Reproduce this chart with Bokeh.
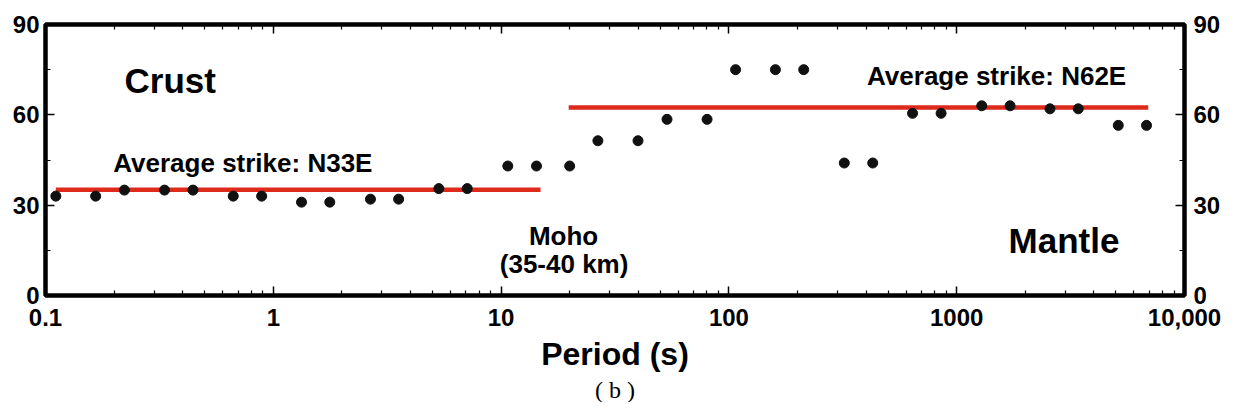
from bokeh.plotting import figure
from bokeh.models import Range1d, LogAxis, LinearAxis, FixedTicker, CustomJSTickFormatter, Label, Title
from bokeh.embed import file_html
from bokeh.resources import INLINE

# ---- data ----
period = [0.111, 0.166, 0.222, 0.333, 0.444, 0.667, 0.889, 1.33, 1.77, 2.67, 3.55,
          5.33, 7.1, 10.7, 14.3, 20.0, 26.6, 39.9, 53.5, 80.2, 107, 160, 213,
          321, 428, 640, 854, 1288, 1715, 2567, 3417, 5120, 6813]
strike = [33, 33, 35, 35, 35, 33, 33, 31, 31, 32, 32,
          35.5, 35.5, 43, 43, 43, 51.4, 51.4, 58.5, 58.5, 75, 75, 75,
          44, 44, 60.5, 60.5, 63, 63, 62, 62, 56.5, 56.5]

crust_x = [0.111, 14.9]
crust_y = [35.1, 35.1]
mantle_x = [19.8, 6930]
mantle_y = [62.4, 62.4]

x_ticks = [0.1, 1, 10, 100, 1000, 10000]
x_tick_labels = ["0.1", "1", "10", "100", "1000", "10,000"]
y_ticks = [0, 30, 60, 90]
y_minor = [15, 45, 75]

x_minor = [m * d for d in x_ticks[:-1] for m in range(2, 10)]

FONT = "Liberation Sans"

p = figure(width=1223, height=402, x_axis_type="log",
           x_range=Range1d(0.1, 10000), y_range=Range1d(0, 90),
           output_backend="svg", toolbar_location=None,
           min_border_left=45, min_border_right=38,
           min_border_top=24, min_border_bottom=106)
p.grid.visible = False
p.outline_line_color = "black"
p.outline_line_width = 4.5
p.background_fill_color = "white"
p.border_fill_color = "white"

labels_js = CustomJSTickFormatter(args=dict(t=x_ticks, l=x_tick_labels), code="""
for (let i = 0; i < t.length; i++) { if (Math.abs(Math.log10(tick) - Math.log10(t[i])) < 1e-6) return l[i]; }
return '';
""")
blank_js = CustomJSTickFormatter(code="return '';")

def style_axis(ax):
    ax.axis_line_color = None
    ax.major_tick_in = 9
    ax.major_tick_out = 0
    ax.minor_tick_in = 5
    ax.minor_tick_out = 0
    ax.major_tick_line_width = 1.5
    ax.minor_tick_line_width = 1.2
    ax.major_tick_line_color = "black"
    ax.minor_tick_line_color = "black"
    ax.major_label_text_font = FONT
    ax.major_label_text_font_style = "bold"
    ax.major_label_text_font_size = "24px"
    ax.major_label_text_color = "black"

xticker = FixedTicker(ticks=x_ticks, minor_ticks=x_minor)
yticker = FixedTicker(ticks=y_ticks, minor_ticks=y_minor)

xa = p.xaxis[0]
xa.ticker = xticker
xa.formatter = labels_js
style_axis(xa)
xa.major_label_standoff = 13
xa.axis_label = "Period (s)"
xa.axis_label_text_font = FONT
xa.axis_label_text_font_style = "bold"
xa.axis_label_text_font_size = "32px"
xa.axis_label_text_color = "black"
xa.axis_label_standoff = 7

ya = p.yaxis[0]
ya.ticker = yticker
style_axis(ya)
ya.major_label_standoff = 6
ya.major_label_orientation = "horizontal"

top = LogAxis(ticker=xticker, formatter=blank_js)
style_axis(top)
top.major_label_text_font_size = "0px"
top.major_label_standoff = 0
p.add_layout(top, "above")

right = LinearAxis(ticker=yticker)
style_axis(right)
right.major_label_standoff = 9
p.add_layout(right, "right")

# average-strike lines
p.line(crust_x, crust_y, line_color="#dd2a1b", line_width=4.5)
p.line(mantle_x, mantle_y, line_color="#dd2a1b", line_width=4.5)

# measurements
p.scatter(period, strike, size=10, fill_color="#111111", line_color="#111111")

# annotations
texts = [
    ("Crust", 0.353, 71.5, "35px"),
    ("Average strike: N33E", 0.735, 43.9, "26px"),
    ("Moho", 18.8, 19.9, "26px"),
    ("(35-40 km)", 18.9, 10.3, "26px"),
    ("Average strike: N62E", 1497, 72.8, "26px"),
    ("Mantle", 2958, 18.3, "35px"),
]
for txt, x, y, fs in texts:
    p.add_layout(Label(x=x, y=y, text=txt, text_font=FONT, text_font_style="bold",
                       text_font_size=fs, text_align="center",
                       text_baseline="alphabetic", text_color="black"))

caption = Title(text="( b )", align="center", text_font="Liberation Serif",
                text_font_style="normal", text_font_size="24px", text_color="black",
                standoff=0, offset=10)
p.add_layout(caption, "below")

open("out.html", "w").write(file_html(p, INLINE))
